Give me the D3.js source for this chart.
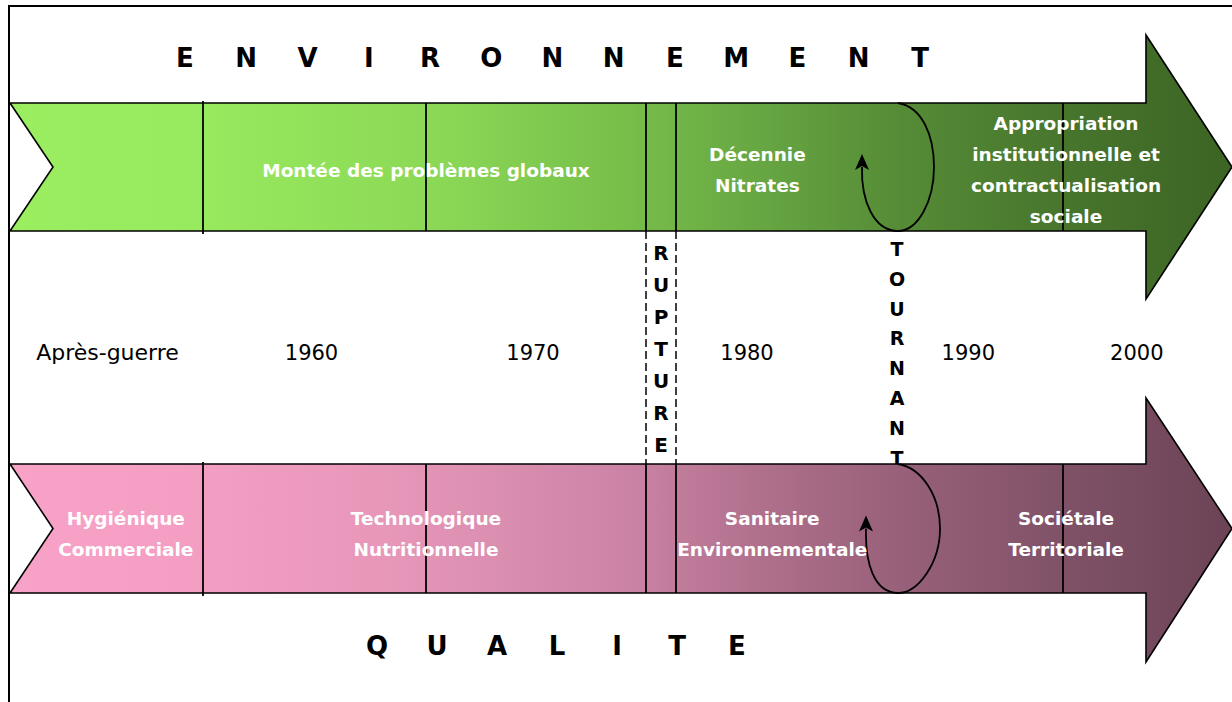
<!DOCTYPE html>
<html>
<head>
<meta charset="utf-8">
<script src="https://cdn.jsdelivr.net/npm/d3@7"></script>
<style>
  html, body { margin: 0; padding: 0; background: #fff; }
  svg { display: block; }
  text { font-family: "Comic Sans MS", "DejaVu Sans", sans-serif; }
</style>
</head>
<body>
<svg id="chart" width="1232" height="702"></svg>
<script>
// ---- data ----
const periodLabels = ["Après-guerre", "1960", "1970", "1980", "1990", "2000"];
const periodYears = [1950, 1960, 1970, 1980, 1990, 2000];
const dividerYears = [1955, 1965, 1975, 1977, 1995];
const ruptureYears = [1975, 1977];
const tournantYear = 1986;

const envLabels = [["Montée des problèmes globaux"], ["Décennie", "Nitrates"],
  ["Appropriation", "institutionnelle et", "contractualisation", "sociale"]];
const envLabelYears = [1965, 1980.3, 1995.2];

const qualLabels = [["Hygiénique", "Commerciale"], ["Technologique", "Nutritionnelle"],
  ["Sanitaire", "Environnementale"], ["Sociétale", "Territoriale"]];
const qualLabelYears = [1951, 1965, 1980.9, 1995.2];

const envTitle = "ENVIRONNEMENT";
const qualTitle = "QUALITE";
const ruptureWord = "RUPTURE";
const tournantWord = "TOURNANT";

// ---- layout ----
const W = 1232, H = 702;
const svg = d3.select("#chart");
const x = d3.scaleLinear()
  .domain([1945, 1955, 1965, 1975, 1977, 1986, 1995, 2006])
  .range([10, 203, 426, 646, 676, 898, 1063, 1232]);
const headX = 1146, tipX = 1232;

const tracks = [
  { name: "env", top: 103, bottom: 231, headTop: 35, headBottom: 299,
    stops: [[0, "#9bee60"], [0.15, "#98ea5e"], [0.35, "#8bd856"], [0.5, "#78bf4a"],
            [0.62, "#66a542"], [0.73, "#558b36"], [0.86, "#48762d"], [1, "#3c6424"]],
    labels: envLabels, labelYears: envLabelYears, loopR: 934, loopL: 862, labelDy: 3 },
  { name: "qual", top: 464, bottom: 593, headTop: 398, headBottom: 662,
    stops: [[0, "#f8a2c8"], [0.15, "#f49ec4"], [0.32, "#e696b8"], [0.5, "#cc84a6"],
            [0.62, "#ae6f8b"], [0.73, "#98607a"], [0.86, "#805268"], [1, "#6c4356"]],
    labels: qualLabels, labelYears: qualLabelYears, loopR: 940, loopL: 866, labelDy: 5 }
];

const defs = svg.append("defs");
tracks.forEach(t => {
  const g = defs.append("linearGradient").attr("id", "grad-" + t.name)
    .attr("gradientUnits", "userSpaceOnUse")
    .attr("x1", x(1945)).attr("x2", tipX).attr("y1", 0).attr("y2", 0);
  t.stops.forEach(s => g.append("stop").attr("offset", s[0]).attr("stop-color", s[1]));
});

// frame
svg.append("path").attr("d", `M9,${H} V6 H${W}`)
  .attr("fill", "none").attr("stroke", "#000").attr("stroke-width", 2);

// big titles
const envPts = d3.scalePoint().domain(d3.range(envTitle.length)).range([185, 920]);
svg.append("g").selectAll("text").data(envTitle.split("")).join("text")
  .attr("x", (d, i) => envPts(i)).attr("y", 58).attr("dy", "0.36em")
  .attr("text-anchor", "middle").attr("font-weight", "bold").attr("font-size", 26)
  .text(d => d);
const qualPts = d3.scalePoint().domain(d3.range(qualTitle.length)).range([377, 737]);
svg.append("g").selectAll("text").data(qualTitle.split("")).join("text")
  .attr("x", (d, i) => qualPts(i)).attr("y", 646).attr("dy", "0.36em")
  .attr("text-anchor", "middle").attr("font-weight", "bold").attr("font-size", 26)
  .text(d => d);

// years
svg.append("g").selectAll("text").data(periodLabels).join("text")
  .attr("x", (d, i) => x(periodYears[i]) + (i === 0 ? 1 : -3)).attr("y", 352).attr("dy", "0.36em")
  .attr("text-anchor", "middle").attr("font-size", (d, i) => i === 0 ? 22 : 21)
  .text(d => d);

// rupture dashed lines and letters
svg.append("g").selectAll("line").data(ruptureYears).join("line")
  .attr("x1", d => x(d)).attr("x2", d => x(d)).attr("y1", 231).attr("y2", 464)
  .attr("stroke", "#000").attr("stroke-width", 1.5).attr("stroke-dasharray", "8,4");
const rupPts = d3.scalePoint().domain(d3.range(ruptureWord.length)).range([253, 445]);
svg.append("g").selectAll("text").data(ruptureWord.split("")).join("text")
  .attr("x", (x(ruptureYears[0]) + x(ruptureYears[1])) / 2).attr("y", (d, i) => rupPts(i))
  .attr("dy", "0.36em").attr("text-anchor", "middle").attr("font-weight", "bold")
  .attr("font-size", 20).text(d => d);

// tournant letters
const tourPts = d3.scalePoint().domain(d3.range(tournantWord.length)).range([249, 458]);
svg.append("g").selectAll("text").data(tournantWord.split("")).join("text")
  .attr("x", x(tournantYear) - 1).attr("y", (d, i) => tourPts(i))
  .attr("dy", "0.36em").attr("text-anchor", "middle").attr("font-weight", "bold")
  .attr("font-size", 19).text(d => d);

// arrows
tracks.forEach(t => {
  const mid = (t.top + t.bottom) / 2;
  const g = svg.append("g");
  const pts = [[x(1945), t.top], [headX, t.top], [headX, t.headTop], [tipX, mid],
    [headX, t.headBottom], [headX, t.bottom], [x(1945), t.bottom], [53, mid]];
  g.append("path").attr("d", d3.line()(pts) + "Z")
    .attr("fill", `url(#grad-${t.name})`).attr("stroke", "#000").attr("stroke-width", 1.6)
    .attr("stroke-linejoin", "miter");
  g.selectAll("line.div").data(dividerYears).join("line").attr("class", "div")
    .attr("x1", d => x(d)).attr("x2", d => x(d))
    .attr("y1", (d, i) => i === 0 ? t.top - 2 : t.top)
    .attr("y2", (d, i) => i === 0 ? t.bottom + 3 : t.bottom)
    .attr("stroke", "#000").attr("stroke-width", 1.8);
  // loop (tournant)
  const lx = x(tournantYear), R = t.loopR, L = t.loopL;
  const tipY = mid - 10;
  const loop = d3.path();
  loop.moveTo(lx, t.top);
  loop.bezierCurveTo(lx + 24, t.top + 4, R, t.top + 32, R, mid);
  loop.bezierCurveTo(R, t.bottom - 30, lx + 20, t.bottom, lx, t.bottom);
  loop.bezierCurveTo(lx - 24, t.bottom, L - 1, t.bottom - 30, L, tipY + 10);
  g.append("path").attr("d", loop.toString()).attr("fill", "none")
    .attr("stroke", "#000").attr("stroke-width", 1.8);
  // arrow head pointing up
  g.append("path")
    .attr("d", d3.line()([[L, tipY - 3], [L + 7, tipY + 13], [L, tipY + 9], [L - 7, tipY + 13]]) + "Z")
    .attr("fill", "#000");
  // labels
  t.labels.forEach((lines, i) => {
    const lh = 31;
    const y0 = mid + t.labelDy - (lines.length - 1) * lh / 2;
    g.append("g").selectAll("text").data(lines).join("text")
      .attr("x", x(t.labelYears[i])).attr("y", (d, j) => y0 + j * lh)
      .attr("dy", "0.36em").attr("text-anchor", "middle")
      .attr("fill", "#fff").attr("font-weight", "bold").attr("font-size", 18.5)
      .text(d => d);
  });
});
</script>
</body>
</html>
